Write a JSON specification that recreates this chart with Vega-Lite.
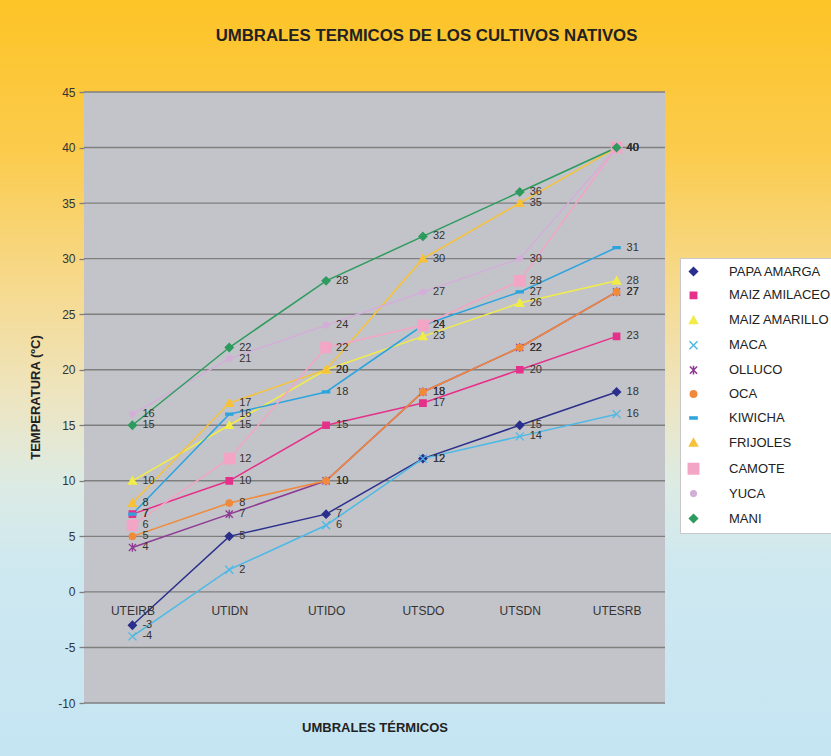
{
  "$schema": "https://vega.github.io/schema/vega-lite/v6.json",
  "width": 581,
  "height": 611,
  "autosize": {"type": "none"},
  "padding": {"left": 84, "top": 92, "right": 166, "bottom": 53},
  "background": "#FFFFFF",
  "title": {"text": "UMBRALES TERMICOS DE LOS CULTIVOS NATIVOS", "font": "Liberation Sans", "fontSize": 16.8, "fontWeight": "bold", "color": "#222222", "anchor": "middle", "frame": "group", "dx": 52, "dy": 86, "offset": 40},
  "config": {
    "view": {"fill": "#C3C4C9", "stroke": null},
    "axis": {"labelFont": "Liberation Sans", "titleFont": "Liberation Sans", "labelColor": "#333333", "titleColor": "#222222", "labelFontSize": 12, "titleFontSize": 13, "titleFontWeight": "bold"}
  },
  "data": {"values": [
    {"s": "PAPA AMARGA", "UTEIRB": -3, "UTIDN": 5, "UTIDO": 7, "UTSDO": 12, "UTSDN": 15, "UTESRB": 18},
    {"s": "MAIZ AMILACEO", "UTEIRB": 7, "UTIDN": 10, "UTIDO": 15, "UTSDO": 17, "UTSDN": 20, "UTESRB": 23},
    {"s": "MAIZ AMARILLO", "UTEIRB": 10, "UTIDN": 15, "UTIDO": 20, "UTSDO": 23, "UTSDN": 26, "UTESRB": 28},
    {"s": "MACA", "UTEIRB": -4, "UTIDN": 2, "UTIDO": 6, "UTSDO": 12, "UTSDN": 14, "UTESRB": 16},
    {"s": "OLLUCO", "UTEIRB": 4, "UTIDN": 7, "UTIDO": 10, "UTSDO": 18, "UTSDN": 22, "UTESRB": 27},
    {"s": "OCA", "UTEIRB": 5, "UTIDN": 8, "UTIDO": 10, "UTSDO": 18, "UTSDN": 22, "UTESRB": 27},
    {"s": "KIWICHA", "UTEIRB": 7, "UTIDN": 16, "UTIDO": 18, "UTSDO": 24, "UTSDN": 27, "UTESRB": 31},
    {"s": "FRIJOLES", "UTEIRB": 8, "UTIDN": 17, "UTIDO": 20, "UTSDO": 30, "UTSDN": 35, "UTESRB": 40},
    {"s": "CAMOTE", "UTEIRB": 6, "UTIDN": 12, "UTIDO": 22, "UTSDO": 24, "UTSDN": 28, "UTESRB": 40},
    {"s": "YUCA", "UTEIRB": 16, "UTIDN": 21, "UTIDO": 24, "UTSDO": 27, "UTSDN": 30, "UTESRB": 40},
    {"s": "MANI", "UTEIRB": 15, "UTIDN": 22, "UTIDO": 28, "UTSDO": 32, "UTSDN": 36, "UTESRB": 40}
  ]},
  "transform": [{"fold": ["UTEIRB", "UTIDN", "UTIDO", "UTSDO", "UTSDN", "UTESRB"], "as": ["umbral", "t"]}],
  "encoding": {
    "x": {"field": "umbral", "type": "ordinal", "sort": ["UTEIRB", "UTIDN", "UTIDO", "UTSDO", "UTSDN", "UTESRB"], "title": "UMBRALES TÉRMICOS",
      "axis": {"offset": -111, "domain": false, "ticks": false, "tickSize": 0, "grid": false, "labelAngle": 0, "labelPadding": 13, "titleY": 135, "titleBaseline": "middle", "zindex": 1}},
    "y": {"field": "t", "type": "quantitative", "title": "TEMPERATURA (ºC)", "scale": {"domain": [-10, 45], "nice": false, "zero": false},
      "axis": {"values": [-10, -5, 0, 5, 10, 15, 20, 25, 30, 35, 40, 45], "labelExpr": "toString(datum.value)", "domain": false, "ticks": true, "tickSize": 5, "tickColor": "#7F7F7F", "tickWidth": 1.3, "grid": false, "labelPadding": 4, "titleX": -49, "titleY": 305, "titleAngle": -90, "titleAlign": "center", "titleBaseline": "middle", "zindex": 1}}
  },
  "layer": [
    {
      "transform": [{"filter": "datum.s === 'MANI' && datum.umbral === 'UTEIRB'"}],
      "mark": {"type": "point", "filled": true, "opacity": 1, "size": 4, "strokeWidth": 0,
        "shape": "M-134,-93H700V665H-134Z M-48.42,0V611H532.58V0Z",
        "fill": {"gradient": "linear", "x1": 0, "y1": 0, "x2": 0, "y2": 1, "stops": [
          {"offset": 0, "color": "#FDC426"},
          {"offset": 0.2, "color": "#FBCB4C"},
          {"offset": 0.4, "color": "#F5DB95"},
          {"offset": 0.53, "color": "#EDE5C2"},
          {"offset": 0.64, "color": "#DCEBE4"},
          {"offset": 0.75, "color": "#CEE8F0"},
          {"offset": 1, "color": "#C5E5F3"}
        ]}},
      "encoding": {
        "y": {"datum": 45, "type": "quantitative"}
      }
    },
    {
      "data": {"values": [{"g": -10}, {"g": -5}, {"g": 0}, {"g": 5}, {"g": 10}, {"g": 15}, {"g": 20}, {"g": 25}, {"g": 30}, {"g": 35}, {"g": 40}, {"g": 45}]},
      "mark": {"type": "rule", "color": "#7F7F7F", "strokeWidth": 1.4},
      "encoding": {"x": null, "y": {"field": "g", "type": "quantitative", "title": "TEMPERATURA (ºC)",
        "axis": {"values": [-10, -5, 0, 5, 10, 15, 20, 25, 30, 35, 40, 45], "labelExpr": "toString(datum.value)", "domain": false, "ticks": true, "tickSize": 5, "tickColor": "#7F7F7F", "tickWidth": 1.3, "grid": false, "labelPadding": 4, "titleX": -49, "titleY": 305, "titleAngle": -90, "titleAlign": "center", "titleBaseline": "middle", "zindex": 1}}}
    },
    {
      "mark": {"type": "line", "strokeWidth": 1.5},
      "encoding": {
        "stroke": {"field": "s", "type": "nominal", "scale": {
          "domain": ["PAPA AMARGA", "MAIZ AMILACEO", "MAIZ AMARILLO", "MACA", "OLLUCO", "OCA", "KIWICHA", "FRIJOLES", "CAMOTE", "YUCA", "MANI"],
          "range": ["#2B2F8C", "#E5318A", "#F2EC48", "#4CB9E6", "#8E3A94", "#F08A3A", "#2DA4DE", "#F7C238", "#F3A5C5", "#D3AED9", "#2E9B5E"]}}
      }
    },
    {
      "mark": {"type": "point", "filled": true, "opacity": 1, "strokeWidth": 1.3, "size": 64},
      "encoding": {
        "stroke": {"field": "s", "type": "nominal", "scale": {
          "domain": ["PAPA AMARGA", "MAIZ AMILACEO", "MAIZ AMARILLO", "MACA", "OLLUCO", "OCA", "KIWICHA", "FRIJOLES", "CAMOTE", "YUCA", "MANI"],
          "range": ["#2B2F8C", "#E5318A", "#F2EC48", "#4CB9E6", "#8E3A94", "#F08A3A", "#2DA4DE", "#F7C238", "#F3A5C5", "#D3AED9", "#2E9B5E"]}},
        "shape": {"field": "s", "type": "nominal", "scale": {
          "domain": ["PAPA AMARGA", "MAIZ AMILACEO", "MAIZ AMARILLO", "MACA", "OLLUCO", "OCA", "KIWICHA", "FRIJOLES", "CAMOTE", "YUCA", "MANI"],
          "range": [
            "M0,-1L1,0L0,1L-1,0Z",
            "M-0.8,-0.8H0.8V0.8H-0.8Z",
            "M0,-1L1,0.8H-1Z",
            "M-1,-1L1,1M-1,1L1,-1",
            "M-0.9,-0.9L0.9,0.9M-0.9,0.9L0.9,-0.9M0,-1.1V1.1",
            "M-0.8,0A0.8,0.8,0,1,1,0.8,0A0.8,0.8,0,1,1,-0.8,0Z",
            "M-0.9,-0.25H0.9V0.25H-0.9Z",
            "M0,-1L1,0.8H-1Z",
            "M-1.3,-1.3H1.3V1.3H-1.3Z",
            "M-0.7,0A0.7,0.7,0,1,1,0.7,0A0.7,0.7,0,1,1,-0.7,0Z",
            "M0,-1L1,0L0,1L-1,0Z"
          ]}},
        "fill": {"field": "s", "type": "nominal", "scale": {
          "domain": ["PAPA AMARGA", "MAIZ AMILACEO", "MAIZ AMARILLO", "MACA", "OLLUCO", "OCA", "KIWICHA", "FRIJOLES", "CAMOTE", "YUCA", "MANI"],
          "range": ["#2B2F8C", "#E5318A", "#F2EC48", "#4CB9E6", "#8E3A94", "#F08A3A", "#2DA4DE", "#F7C238", "#F3A5C5", "#D3AED9", "#2E9B5E"]},
          "legend": {
            "title": null, "orient": "none", "legendX": 596, "legendY": 166,
            "fillColor": "#FFFFFF", "strokeColor": "#C8C8C8", "padding": 7,
            "labelFont": "Liberation Sans", "labelFontSize": 13, "labelColor": "#222222", "labelOffset": 29, "labelLimit": 300,
            "rowPadding": 9.9, "symbolSize": 64, "symbolStrokeWidth": 1.5
          }}
      }
    },
    {
      "mark": {"type": "text", "align": "left", "baseline": "middle", "dx": 10, "font": "Liberation Sans", "fontSize": 11, "color": "#333333"},
      "encoding": {"text": {"field": "t", "type": "nominal"}}
    }
  ]
}
